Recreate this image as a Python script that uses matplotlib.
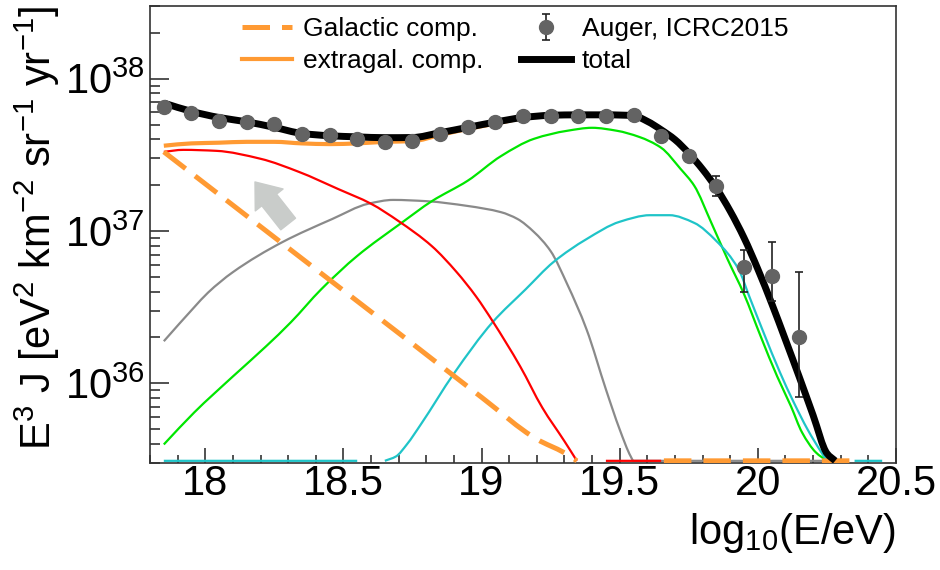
import numpy as np
import matplotlib
matplotlib.use("Agg")
import matplotlib.pyplot as plt
from matplotlib.path import Path
from matplotlib.patches import PathPatch
from matplotlib.ticker import MultipleLocator, LogLocator, NullFormatter, FormatStrFormatter

plt.rcParams['font.family'] = ['Liberation Sans', 'DejaVu Sans']
plt.rcParams['mathtext.fontset'] = 'custom'
plt.rcParams['mathtext.rm'] = 'Liberation Sans'
plt.rcParams['mathtext.it'] = 'Liberation Sans:italic'
plt.rcParams['mathtext.bf'] = 'Liberation Sans:bold'
plt.rcParams['mathtext.default'] = 'regular'

nan = np.nan

# Auger ICRC2015 spectrum, E^3 J in eV^2 km^-2 sr^-1 yr^-1
auger_x = [17.85, 17.95, 18.05, 18.15, 18.25, 18.35, 18.45, 18.55, 18.65, 18.75,
           18.85, 18.95, 19.05, 19.15, 19.25, 19.35, 19.45, 19.55, 19.65, 19.75,
           19.85, 19.95, 20.05, 20.15]
auger_y = [6.55e37, 5.97e37, 5.30e37, 5.21e37, 5.06e37, 4.35e37, 4.29e37, 4.03e37,
           3.85e37, 3.91e37, 4.35e37, 4.83e37, 5.21e37, 5.66e37, 5.71e37, 5.71e37,
           5.71e37, 5.79e37, 4.22e37, 3.11e37, 1.98e37, 5.79e36, 5.06e36, 2.01e36]
auger_err_lo = [0, 0, 0, 0, 0, 0, 0, 0, 0, 0, 0, 0, 0, 0, 0, 0, 0, 0, 0, 0,
                0.28e37, 1.82e36, 1.60e36, 1.20e36]
auger_err_hi = [0, 0, 0, 0, 0, 0, 0, 0, 0, 0, 0, 0, 0, 0, 0, 0, 0, 0, 0, 0,
                0.32e37, 1.71e36, 3.41e36, 3.36e36]

total_x = [17.85, 17.95, 18.05, 18.15, 18.25, 18.35, 18.45, 18.55, 18.65, 18.75,
           18.85, 18.95, 19.05, 19.15, 19.25, 19.35, 19.45, 19.55, 19.60, 19.65,
           19.70, 19.75, 19.80, 19.85, 19.90, 19.95, 20.00, 20.05, 20.10, 20.15,
           20.20, 20.25, 20.28]
total_y = [6.92e37, 6.10e37, 5.56e37, 5.21e37, 4.79e37, 4.37e37, 4.22e37, 4.15e37,
           4.10e37, 4.11e37, 4.42e37, 4.79e37, 5.19e37, 5.56e37, 5.75e37, 5.79e37,
           5.79e37, 5.72e37, 5.25e37, 4.62e37, 3.98e37, 3.24e37, 2.54e37, 1.91e37,
           1.35e37, 9.02e36, 5.62e36, 3.35e36, 1.93e36, 1.10e36, 6.17e35, 3.47e35,
           3.1e35]
extragal_y = [3.63e37, 3.76e37, 3.80e37, 3.85e37, 3.85e37, 3.76e37, 3.72e37, 3.76e37,
              3.85e37, 3.89e37, 4.27e37, 4.68e37, 5.07e37, 5.50e37, 5.72e37, 5.78e37,
              5.79e37, 5.72e37, 5.25e37, 4.62e37, 3.98e37, 3.24e37, 2.54e37, 1.91e37,
              1.35e37, 9.02e36, 5.62e36, 3.35e36, 1.93e36, 1.10e36, 6.17e35, 3.47e35,
              3.1e35]

galactic_x = [17.85, 18.0, 18.25, 18.5, 18.75, 19.0, 19.2, 19.3, 19.345, 19.40,
              19.66, 19.8, 20.0, 20.2, 20.35]
galactic_y = [3.31e37, 2.04e37, 9.1e36, 4.07e36, 1.82e36, 8.1e35, 4.3e35, 3.5e35,
              3.1e35, nan, 3.1e35, 3.1e35, 3.1e35, 3.1e35, 3.1e35]

# mass groups of the extragalactic component
red_x = [17.85, 17.92, 18.04, 18.20, 18.34, 18.48, 18.60, 18.70, 18.82, 18.91, 18.98,
         19.04, 19.14, 19.22, 19.30, 19.345, 19.40, 19.45, 19.65]
red_y = [3.31e37, 3.41e37, 3.36e37, 2.98e37, 2.44e37, 1.89e37, 1.51e37, 1.16e37,
         7.96e36, 5.37e36, 3.72e36, 2.56e36, 1.29e36, 6.92e35, 4.17e35, 3.1e35,
         nan, 3.1e35, 3.1e35]

gray_x = [17.85, 17.96, 18.01, 18.10, 18.28, 18.46, 18.59, 18.68, 18.80, 18.95, 19.07,
          19.13, 19.19, 19.25, 19.31, 19.38, 19.45, 19.50, 19.54, 19.55, 20.30]
gray_y = [1.89e36, 3.16e36, 3.94e36, 5.37e36, 8.47e36, 1.20e37, 1.51e37, 1.60e37,
          1.57e37, 1.46e37, 1.33e37, 1.20e37, 9.84e36, 7.38e36, 4.48e36, 2.26e36,
          9.14e35, 4.98e35, 3.31e35, 3.1e35, 3.1e35]

green_x = [17.85, 17.96, 18.10, 18.22, 18.31, 18.42, 18.55, 18.71, 18.82, 18.95, 19.07,
           19.19, 19.31, 19.40, 19.49, 19.57, 19.65, 19.72, 19.77, 19.83, 19.89, 19.95,
           20.01, 20.07, 20.12, 20.16, 20.21, 20.25]
green_y = [3.97e35, 6.44e35, 1.11e36, 1.75e36, 2.52e36, 4.15e36, 6.86e36, 1.13e37,
           1.57e37, 2.14e37, 3.10e37, 4.03e37, 4.55e37, 4.76e37, 4.55e37, 4.15e37,
           3.52e37, 2.56e37, 1.98e37, 1.15e37, 6.55e36, 3.85e36, 2.04e36, 1.11e36,
           7.06e35, 4.76e35, 3.52e35, 3.1e35]

cyan_x = [17.85, 18.55, 18.60, 18.65, 18.69, 18.73, 18.78, 18.90, 19.04, 19.16, 19.26,
          19.38, 19.50, 19.61, 19.68, 19.77, 19.85, 19.93, 19.97, 20.02, 20.08, 20.13,
          20.18, 20.23, 20.25, 20.30, 20.35, 20.45]
cyan_y = [3.1e35, 3.1e35, nan, 3.1e35, 3.31e35, 3.98e35, 5.37e35, 1.16e36, 2.52e36,
          4.15e36, 6.25e36, 8.85e36, 1.15e37, 1.27e37, 1.27e37, 1.13e37, 8.59e36,
          5.62e36, 3.68e36, 2.17e36, 1.18e36, 7.50e35, 4.98e35, 3.52e35, 3.1e35,
          nan, 3.1e35, 3.1e35]

orange = '#ff9a33'


def smooth_curve(ax, x, y, **kw):
    """Draw a smooth (monotone cubic in log y) curve through the points."""
    x = np.asarray(x, float)
    y = np.asarray(y, float)
    ok = ~np.isnan(y)
    # split at gaps
    pieces, cur = [], []
    for i in range(len(x)):
        if ok[i]:
            cur.append(i)
        elif cur:
            pieces.append(cur)
            cur = []
    if cur:
        pieces.append(cur)
    for idx in pieces:
        xs = x[idx]
        ls = np.log10(y[idx])
        n = len(xs)
        if n < 2:
            continue
        h = np.diff(xs)
        d = np.diff(ls) / h
        m = np.zeros(n)
        m[0], m[-1] = d[0], d[-1]
        for k in range(1, n - 1):
            if d[k - 1] * d[k] <= 0:
                m[k] = 0
            else:
                w1 = 2 * h[k] + h[k - 1]
                w2 = h[k] + 2 * h[k - 1]
                m[k] = (w1 + w2) / (w1 / d[k - 1] + w2 / d[k])
        verts = [(xs[0], 10 ** ls[0])]
        codes = [Path.MOVETO]
        for k in range(n - 1):
            c1 = (xs[k] + h[k] / 3, 10 ** (ls[k] + m[k] * h[k] / 3))
            c2 = (xs[k + 1] - h[k] / 3, 10 ** (ls[k + 1] - m[k + 1] * h[k] / 3))
            verts += [c1, c2, (xs[k + 1], 10 ** ls[k + 1])]
            codes += [Path.CURVE4] * 3
        ax.add_patch(PathPatch(Path(verts, codes), fill=False, **kw))


fig = plt.figure(figsize=(9.4, 5.7), dpi=100)
ax = fig.add_axes([150 / 940, 107 / 570, 746 / 940, 457 / 570])

smooth_curve(ax, gray_x, gray_y, edgecolor='#8a8a8a', lw=1.6, zorder=2)
smooth_curve(ax, red_x, red_y, edgecolor='#ff0000', lw=1.6, zorder=2.1)
smooth_curve(ax, green_x, green_y, edgecolor='#00e600', lw=1.6, zorder=2)
smooth_curve(ax, cyan_x, cyan_y, edgecolor='#1fc4c8', lw=1.6, zorder=2)
smooth_curve(ax, galactic_x, galactic_y, edgecolor=orange, lw=3.6,
             linestyle=(0, (5.5, 2.4)), zorder=3)
smooth_curve(ax, total_x, extragal_y, edgecolor=orange, lw=3.0, zorder=3)
smooth_curve(ax, total_x, total_y, edgecolor='black', lw=5.0, zorder=4)

# legend handles
gal, = ax.plot([], [], color=orange, lw=3.6, dashes=(5.5, 2.4))
ext, = ax.plot([], [], color=orange, lw=3.0)
tot, = ax.plot([], [], color='black', lw=5.0)

dat = ax.errorbar(auger_x, auger_y, yerr=[auger_err_lo, auger_err_hi], fmt='o',
                  color='#636363', ms=10, ecolor='#222222', elinewidth=1.2,
                  capsize=3, capthick=1.2, zorder=5)

ax.annotate('', xy=(18.18, 10 ** 37.322), xytext=(18.30, 10 ** 37.046),
            arrowprops=dict(arrowstyle='simple,head_length=0.55,head_width=0.85,tail_width=0.45',
                            color='#c9ccca', shrinkA=0, shrinkB=0, mutation_scale=30),
            zorder=1)

ax.set_yscale('log')
ax.set_xlim(17.8, 20.5)
ax.set_ylim(3e35, 3e38)

ax.xaxis.set_major_locator(MultipleLocator(0.5))
ax.xaxis.set_minor_locator(MultipleLocator(0.1))
ax.xaxis.set_major_formatter(FormatStrFormatter('%g'))
ax.yaxis.set_major_locator(LogLocator(base=10))
ax.yaxis.set_minor_locator(LogLocator(base=10, subs=np.arange(2, 10)))
ax.yaxis.set_minor_formatter(NullFormatter())

ax.tick_params(which='both', direction='in', top=False, right=False, labelsize=30,
               color='#333333', width=1.2)
ax.tick_params(axis='x', which='major', length=11, pad=1)
ax.tick_params(axis='x', which='minor', length=5.5)
ax.tick_params(axis='y', which='major', length=14, pad=4)
ax.tick_params(axis='y', which='minor', length=7)
for s in ax.spines.values():
    s.set_linewidth(1.2)
    s.set_color('#333333')

ax.set_xlabel(r'log$_{10}$(E/eV)', fontsize=30, loc='right')
ax.xaxis.set_label_coords(1.0, -0.105)
ax.set_ylabel(r'E$^{3}$ J [eV$^{2}$ km$^{-2}$ sr$^{-1}$ yr$^{-1}$]', fontsize=30, loc='top')
ax.yaxis.set_label_coords(-0.118, 1.0)

fig.legend([gal, ext, dat, tot],
           ['Galactic comp.', 'extragal. comp.', 'Auger, ICRC2015', 'total'],
           ncol=2, loc='upper left', bbox_to_anchor=(242 / 940, 1 - 17 / 570),
           frameon=False, fontsize=19, handlelength=1.9, handletextpad=0.42,
           columnspacing=1.4, labelspacing=0.3, borderpad=0, borderaxespad=0)

fig.savefig('out.png', dpi=100)
